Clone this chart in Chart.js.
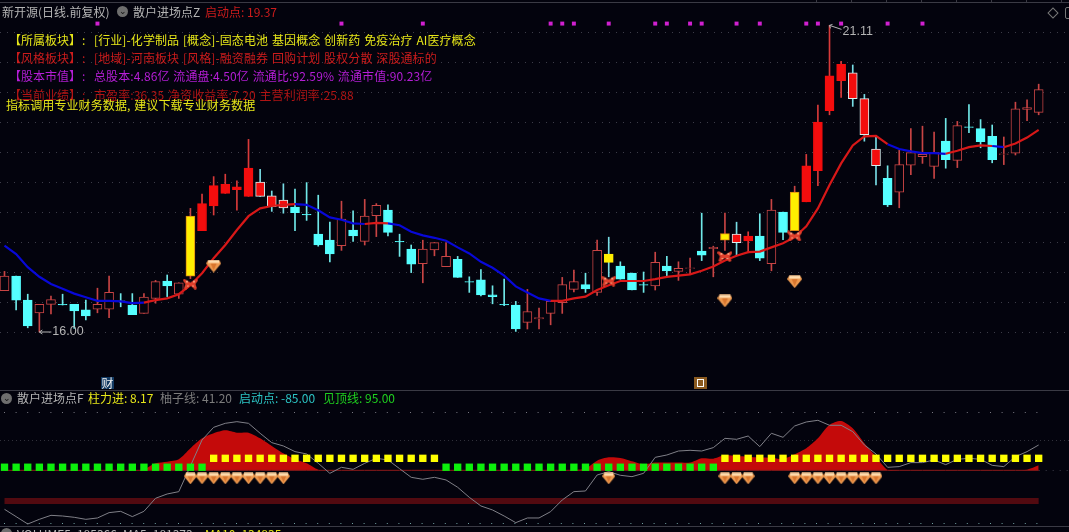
<!DOCTYPE html>
<html>
<head>
<meta charset="utf-8">
<title>散户进场点</title>
<script src="https://cdn.jsdelivr.net/npm/chart.js@4/dist/chart.umd.min.js"></script>
<style>
    html, body { margin: 0; padding: 0; background: #03030d; overflow: hidden; }
    #wrap { position: relative; width: 1069px; height: 532px; overflow: hidden; font-family: "Noto Sans CJK SC", sans-serif; font-size: 12px; }
    canvas { position: absolute; left: 0; top: 0; }
    .t { position: absolute; white-space: pre; line-height: 16px; height: 16px; }
    .s { letter-spacing: 0.1px; word-spacing: 1px; }
    .gray { color: #b4b4b4; }
    .dim { color: #7c7c7c; }
    .yellow { color: #e6e619; }
    .red { color: #cc1c1c; }
    .dred { color: #b01414; }
    .purple { color: #b51ed6; }
    .cyan { color: #2cc4c4; }
    .green { color: #1fd01f; }
    .circle { position: absolute; width: 11px; height: 11px; border-radius: 50%; background: #6e6e6e; color: #111; font-size: 9px; line-height: 10px; text-align: center; }
    .cai { position: absolute; left: 101px; top: 377px; width: 13px; height: 12px; background: #123a63; color: #f0f0f0; font-size: 12px; line-height: 12px; text-align: center; }
    .box { position: absolute; left: 694px; top: 377px; width: 13px; height: 12px; background: #8a5a20; }
    .box i { position: absolute; left: 3px; top: 2px; width: 5px; height: 6px; border: 1px solid #fff; }
    .dm { position: absolute; left: 1049px; top: 9px; width: 6px; height: 6px; border: 1px solid #777; transform: rotate(45deg); }
    .brk { position: absolute; left: 1065px; top: 7px; width: 6px; height: 10px; border: 1px solid #777; border-radius: 2px; }
</style>
</head>
<body>
<div id="wrap">
    <canvas id="klineChart" width="1069" height="532"></canvas>

    <div class="t gray" style="left:2px;top:4px">新开源(日线.前复权)</div>
    <div class="circle" style="left:117px;top:6px">⌄</div>
    <div class="t gray" style="left:133px;top:4px">散户进场点Z</div>
    <div class="t red" style="left:205px;top:4px">启动点: 19.37</div>

    <div class="t yellow" style="left:9px;top:32px">【所属板块】</div>
    <div class="t yellow" style="left:82px;top:32px">:</div>
    <div class="t yellow s" style="left:94px;top:32px">[行业]-化学制品 [概念]-固态电池 基因概念 创新药 免疫治疗 AI医疗概念</div>

    <div class="t red" style="left:9px;top:50px">【风格板块】</div>
    <div class="t red" style="left:82px;top:50px">:</div>
    <div class="t red s" style="left:94px;top:50px">[地域]-河南板块 [风格]-融资融券 回购计划 股权分散 深股通标的</div>

    <div class="t purple" style="left:9px;top:68px">【股本市值】</div>
    <div class="t purple" style="left:82px;top:68px">:</div>
    <div class="t purple s" style="left:94px;top:68px">总股本:4.86亿 流通盘:4.50亿 流通比:92.59% 流通市值:90.23亿</div>

    <div class="t dred" style="left:9px;top:87px">【当前业绩】</div>
    <div class="t dred" style="left:82px;top:87px">:</div>
    <div class="t dred s" style="left:94px;top:87px">市盈率:36.35 净资收益率:7.20 主营利润率:25.88</div>

    <div class="t yellow s" style="left:6px;top:97px">指标调用专业财务数据, 建议下载专业财务数据</div>

    <div class="cai">财</div>
    <div class="box"><i></i></div>
    <div class="dm"></div>
    <div class="brk"></div>

    <div class="circle" style="left:1px;top:393px">⌄</div>
    <div class="t gray" style="left:17px;top:390px">散户进场点F</div>
    <div class="t yellow" style="left:88px;top:390px">柱力进: 8.17</div>
    <div class="t dim" style="left:160px;top:390px">柚子线: 41.20</div>
    <div class="t cyan" style="left:239px;top:390px">启动点: -85.00</div>
    <div class="t green" style="left:323px;top:390px">见顶线: 95.00</div>

    <div class="circle" style="left:1px;top:528px">⌄</div>
    <div class="t gray" style="left:17px;top:526px">VOLUME5: 185366</div>
    <div class="t gray" style="left:123px;top:526px">MA5: 181373</div>
    <div class="t yellow" style="left:205px;top:526px">MA10: 134835</div>
</div>

<script>
// K线数据
const opens = [16.69,16.93,16.53,16.32,16.46,16.46,16.46,16.37,16.38,16.38,
    16.52,16.45,16.31,16.56,16.85,16.63,16.93,17.69,18.10,18.31,
    18.37,18.26,18.50,18.27,18.07,18.08,17.96,17.63,17.53,17.44,
    17.70,17.51,17.94,18.03,17.51,17.38,17.14,17.37,17.09,17.21,
    16.84,16.87,16.62,16.46,16.45,16.16,16.22,16.31,16.49,16.71,
    16.79,16.66,17.30,17.10,16.98,16.79,16.77,17.10,17.01,17.06,
    17.35,17.39,17.53,17.49,17.52,17.60,17.14,18.00,17.69,18.17,
    18.69,19.69,20.19,20.32,19.89,19.05,18.56,18.33,18.78,18.92,
    18.76,19.18,18.86,19.42,19.39,19.26,18.96,18.98,19.71,19.66];
const closes = [16.93,16.53,16.10,16.46,16.54,16.45,16.35,16.27,16.46,16.66,
    16.51,16.29,16.58,16.84,16.77,16.82,17.93,18.14,18.44,18.46,
    18.42,18.73,18.26,18.09,18.20,17.99,17.95,17.45,17.30,17.88,
    17.60,17.93,18.11,17.66,17.50,17.13,17.38,17.49,17.26,16.91,
    16.83,16.62,16.59,16.45,16.05,16.34,16.24,16.51,16.79,16.84,
    16.72,17.36,17.16,16.88,16.70,16.78,17.16,17.02,17.06,17.07,
    17.28,17.41,17.64,17.63,17.60,17.23,18.03,17.66,18.33,18.77,
    19.50,20.27,20.46,19.89,19.29,18.77,18.12,18.79,18.99,18.96,
    18.99,18.87,19.44,19.41,19.17,18.87,18.97,19.72,19.74,20.04];
const highs = [17.01,16.93,16.63,16.46,16.60,16.63,16.46,16.53,16.73,16.93,
    16.64,16.64,16.64,16.86,16.95,16.82,18.06,18.30,18.59,18.63,
    18.52,19.21,18.71,18.35,18.47,18.38,18.49,18.28,17.83,18.18,
    18.02,18.21,18.14,18.12,17.63,17.45,17.53,17.49,17.49,17.26,
    16.92,17.04,16.77,16.88,16.51,16.71,16.40,16.51,16.91,17.03,
    16.98,17.53,17.58,17.17,16.98,17.00,17.33,17.26,17.17,17.23,
    17.98,17.43,17.98,17.83,17.67,17.97,18.21,18.00,18.43,18.96,
    19.78,21.11,20.51,20.45,19.96,19.27,18.77,19.03,19.39,19.43,
    19.33,19.56,19.51,19.79,19.54,19.45,19.25,19.83,19.87,20.13];
const lows = [16.69,16.37,16.07,16.00,16.30,16.45,16.06,16.20,16.32,16.24,
    16.42,16.29,16.31,16.48,16.59,16.56,16.89,17.69,17.95,18.31,
    18.03,18.26,18.26,18.01,17.98,17.69,17.86,17.43,17.17,17.36,
    17.51,17.45,17.59,17.60,17.26,16.99,16.82,17.27,17.09,16.91,
    16.66,16.60,16.47,16.44,16.01,16.05,16.05,16.12,16.31,16.67,
    16.66,16.61,16.92,16.88,16.70,16.66,16.70,16.93,16.86,16.97,
    17.19,16.92,17.36,17.27,17.32,17.19,17.02,17.54,17.69,18.17,
    18.44,19.62,19.91,19.76,19.18,18.45,18.09,18.07,18.62,18.81,
    18.56,18.73,18.74,19.32,19.07,18.82,18.79,18.95,19.52,19.62];
// h空心红 c青 R实心红 X红身青影 Y黄身红影 Z黄身青影
const kinds = ("hcchhccchh" + "cchhchYRRR" + "RRXXXcccch" + "chhccchhhc" + "ccccchhhhh" +
    "chZccchchh" + "chYXRchcYR" + "RRRXXXchhh" + "hchccchhhh").split('');

// 启动点均线
const maLine = [17.44,17.30,17.08,16.92,16.80,16.72,16.64,16.58,16.52,16.52,
    16.51,16.48,16.49,16.53,16.56,16.63,16.78,16.98,17.23,17.45,
    17.70,17.93,18.06,18.10,18.12,18.13,18.12,18.03,17.91,17.87,
    17.81,17.80,17.82,17.81,17.78,17.67,17.61,17.57,17.52,17.41,
    17.31,17.17,17.07,16.94,16.76,16.66,16.56,16.52,16.52,16.56,
    16.59,16.70,16.78,16.85,16.85,16.85,16.88,16.92,16.94,16.96,
    17.02,17.09,17.19,17.27,17.33,17.34,17.41,17.48,17.58,17.76,
    18.06,18.45,18.81,19.11,19.26,19.27,19.13,19.05,19.01,18.98,
    18.98,18.97,19.02,19.08,19.11,19.10,19.08,19.14,19.24,19.37];
const maFalling = [[0,11],[25,30],[33,46],[76,80],[85,85]];

// 主图标记
const gemMain = [[18,17.10],[62,16.52],[68,16.84]];
const butterflies = [[16,16.80],[52,16.85],[62,17.26],[68,17.60]];
const purpleMarks = [8,29,36,47,48,49,52,56,57,59,60,63,65,69,70,72,76,79];
const purpleLevel = 21.14;
const priceGrid = [16,16.5,17,17.5,18,18.5,19,19.5,20,20.5,21];
const lowLabel = [3,16.00];
const highLabel = [71,21.11];

// 副图数据
const forceArea = [0,0,0,0,0,0,0,0,0,0,
    0,0,1.6,11.4,14.1,17.9,35.8,52,60.2,65,
    61.2,61.2,52,39.6,27.6,17.9,11.4,1.1,0,0,
    0,0,0,0,0,0,0,0,0,0,
    0,0,0,0,0,0,0,0,0,0.5,
    2.7,15.7,21.1,20,14.6,9.8,12.5,12.5,12.5,12.5,
    19.5,19,24.9,23.3,22.2,21,20.6,18.4,26,35.8,
    52,74,80.2,68.3,43.9,22.2,0.5,0,0,0,
    0,0,0,0,0,0,0,0,1,8.17];
const yuziLine = [-63.4,-75.3,-87.3,-79.7,-73.2,-74.3,-76.4,-79.7,-77.5,-68.8,
    -66.7,-75.3,-66.7,-45.5,-38.5,-34.7,7,49.3,69.9,76.4,
    79.1,76.4,60.2,45,39.6,30.4,26.6,11.4,-4.9,4.9,
    1.6,11.4,19.5,16.8,2.7,-11.4,-14.6,-11.4,-15.7,-27.6,
    -43.9,-58,-64.5,-74.3,-85.1,-77.5,-77.5,-67.2,-48.2,-34.7,
    -33.6,-7.6,-2.2,-8.1,-10.3,-4.9,21.1,24.9,31.4,32.5,
    31.4,36.9,52,50.4,55.8,38.5,60.2,53.7,72.1,78.6,
    81.3,73.2,73.2,62.9,41.2,26.6,4.9,6,12.5,12.5,
    16.8,9.2,17.9,19.5,17.9,8.1,6,22.2,30.4,41.2];
const greenRanges = [[0,17],[38,61]];
const yellowRanges = [[18,37],[62,89]];
const gemRanges = [[16,24],[52,52],[62,64],[68,75]];
const greenLevel = 5;
const yellowLevel = 19.5;
const gemLevel = -13;
const bandLevel = -50;
const topLevel = 95;
const midLevel = 50;
const bottomLevel = -85;

const BG = '#03030d';
const indexes = maLine.map((v, i) => i);

// 不同类型K线的颜色
const bodyFill = { h: BG, c: '#55ffff', R: '#f40d0d', X: '#f40d0d', Y: '#ffee00', Z: '#ffee00' };
const bodyEdge = { h: '#c84444', c: '#55ffff', R: '#f40d0d', X: '#d8f0f0', Y: '#e08a10', Z: '#ffee00' };
const wickColor = { h: '#c84444', c: '#70e8e8', R: '#d83a3a', X: '#78dce4', Y: '#c84444', Z: '#78dce4' };

function expandRanges(ranges, level) {
    const pts = [];
    ranges.forEach(r => {
        for (let i = r[0]; i <= r[1]; i++) {
            pts.push({ x: i, y: level });
        }
    });
    return pts;
}

function inRanges(ranges, i) {
    return ranges.some(r => i >= r[0] && i <= r[1]);
}

// 钻石图标
function makeGem(w, h) {
    const c = document.createElement('canvas');
    c.width = w;
    c.height = h;
    const g = c.getContext('2d');
    const top = Math.round(h * 0.32);
    g.fillStyle = '#ee9a50';
    g.beginPath();
    g.moveTo(2, 0.5); g.lineTo(w - 2, 0.5); g.lineTo(w, top); g.lineTo(w / 2, h); g.lineTo(0, top);
    g.closePath();
    g.fill();
    g.fillStyle = '#ffdcae';
    g.fillRect(2, 0.5, w - 4, top - 1);
    g.fillStyle = '#d9762e';
    g.beginPath();
    g.moveTo(w * 0.3, top); g.lineTo(w * 0.7, top); g.lineTo(w / 2, h - 2);
    g.closePath();
    g.fill();
    return c;
}

// 蝴蝶图标
function makeButterfly() {
    const c = document.createElement('canvas');
    c.width = 15;
    c.height = 11;
    const g = c.getContext('2d');
    g.fillStyle = '#e0402c';
    g.beginPath();
    g.moveTo(7.5, 4); g.lineTo(1, 0); g.lineTo(0, 2); g.lineTo(2.5, 5.5); g.lineTo(1, 10); g.lineTo(3, 11); g.lineTo(7.5, 7);
    g.lineTo(12, 11); g.lineTo(14, 10); g.lineTo(12.5, 5.5); g.lineTo(15, 2); g.lineTo(14, 0);
    g.closePath();
    g.fill();
    g.fillStyle = '#f59a78';
    g.fillRect(3, 2, 2, 2);
    g.fillRect(10, 2, 2, 2);
    g.fillRect(4, 7, 2, 1);
    g.fillRect(9, 7, 2, 1);
    return c;
}

function dotted(ctx, y, x0, x1, dash, color) {
    ctx.save();
    ctx.strokeStyle = color;
    ctx.lineWidth = 1;
    ctx.setLineDash(dash);
    ctx.beginPath();
    ctx.moveTo(x0, y);
    ctx.lineTo(x1, y);
    ctx.stroke();
    ctx.restore();
}

// 网格线、分隔线
const gridPlugin = {
    id: 'gridPlugin',
    beforeDatasetsDraw(chart) {
        const ctx = chart.ctx;
        const px = chart.scales.yPrice;
        const lw = chart.scales.yLow;
        const endX = chart.scales.x.getPixelForValue(indexes[indexes.length - 1]);

        priceGrid.forEach(p => {
            dotted(ctx, Math.round(px.getPixelForValue(p)) + 0.5, 0, 1069, [1, 6], '#3c3c48');
        });
        dotted(ctx, Math.round(lw.getPixelForValue(topLevel)) + 0.5, 4, endX, [1, 10.6], '#777780');
        dotted(ctx, Math.round(lw.getPixelForValue(midLevel)) + 0.5, 0, 1069, [1, 3], '#30303a');
        dotted(ctx, Math.round(lw.getPixelForValue(bottomLevel)) + 0.5, 4, endX, [1, 10.6], '#70a0a0');
        dotted(ctx, Math.round(lw.getPixelForValue(0)) + 0.5, endX, 1069, [1, 6], '#3c3c48');

        ctx.fillStyle = '#3a3a44';
        ctx.fillRect(0, 2, 1069, 1);
        ctx.fillRect(0, 390, 1069, 1);
        ctx.fillRect(0, 526, 1069, 1);
        [816, 851, 886, 921, 956, 991, 1026, 1061].forEach(x => ctx.fillRect(x, 0, 1, 3));
    },
    afterDatasetsDraw(chart) {
        // 最高最低价标注
        const ctx = chart.ctx;
        const x = chart.scales.x;
        const px = chart.scales.yPrice;
        ctx.save();
        ctx.font = '12.5px "Liberation Sans"';
        ctx.textBaseline = 'middle';
        ctx.fillStyle = '#b4b4b4';
        ctx.strokeStyle = '#b4b4b4';
        ctx.lineWidth = 1;

        const lx = x.getPixelForValue(lowLabel[0]);
        const ly = px.getPixelForValue(lowLabel[1]);
        ctx.beginPath();
        ctx.moveTo(lx, ly); ctx.lineTo(lx + 12, ly);
        ctx.moveTo(lx, ly); ctx.lineTo(lx + 3, ly - 2);
        ctx.moveTo(lx, ly); ctx.lineTo(lx + 3, ly + 2);
        ctx.stroke();
        ctx.fillText(lowLabel[1].toFixed(2), lx + 13, ly);

        const hx = x.getPixelForValue(highLabel[0]);
        const hy = px.getPixelForValue(highLabel[1]);
        ctx.beginPath();
        ctx.moveTo(hx, hy); ctx.lineTo(hx + 12, hy + 4);
        ctx.moveTo(hx, hy); ctx.lineTo(hx + 3, hy - 1);
        ctx.moveTo(hx, hy); ctx.lineTo(hx + 1, hy + 3);
        ctx.stroke();
        ctx.fillText(highLabel[1].toFixed(2), hx + 13, hy + 6);
        ctx.restore();
    }
};

function createKlineChart() {
    const ctx = document.getElementById('klineChart').getContext('2d');
    const gemBig = makeGem(15, 13);
    const gemSmall = makeGem(13, 12);
    const butterfly = makeButterfly();

    new Chart(ctx, {
        type: 'bar',
        plugins: [gridPlugin],
        data: {
            datasets: [
                {
                    type: 'line',
                    order: 40,
                    yAxisID: 'yLow',
                    data: indexes.map(i => ({ x: i, y: bandLevel })),
                    borderColor: '#520a10',
                    borderWidth: 6,
                    pointRadius: 0
                },
                {
                    type: 'line',
                    order: 38,
                    yAxisID: 'yLow',
                    data: indexes.map(i => ({ x: i, y: forceArea[i] })),
                    borderColor: '#c40a0a',
                    borderWidth: 0,
                    backgroundColor: '#c40a0a',
                    fill: 'origin',
                    tension: 0.25,
                    pointRadius: 0
                },
                {
                    type: 'line',
                    order: 37,
                    yAxisID: 'yLow',
                    data: indexes.map(i => ({ x: i, y: 0 })),
                    borderColor: '#8e1a1a',
                    borderWidth: 1,
                    pointRadius: 0
                },
                {
                    type: 'line',
                    order: 36,
                    yAxisID: 'yLow',
                    data: indexes.map(i => ({ x: i, y: yuziLine[i] })),
                    borderColor: '#808088',
                    borderWidth: 1,
                    pointRadius: 0
                },
                {
                    type: 'line',
                    order: 35,
                    yAxisID: 'yLow',
                    showLine: false,
                    data: expandRanges(greenRanges, greenLevel),
                    pointStyle: 'rect',
                    pointRadius: 5.2,
                    pointBackgroundColor: '#0cf00c',
                    pointBorderWidth: 0
                },
                {
                    type: 'line',
                    order: 34,
                    yAxisID: 'yLow',
                    showLine: false,
                    data: expandRanges(yellowRanges, yellowLevel),
                    pointStyle: 'rect',
                    pointRadius: 5.2,
                    pointBackgroundColor: '#ffff00',
                    pointBorderWidth: 0
                },
                {
                    type: 'line',
                    order: 33,
                    yAxisID: 'yLow',
                    showLine: false,
                    data: expandRanges(gemRanges, gemLevel),
                    pointStyle: gemSmall
                },
                {
                    // 影线
                    type: 'bar',
                    order: 30,
                    yAxisID: 'yPrice',
                    grouped: false,
                    barThickness: 1,
                    data: indexes.map(i => ({ x: i, y: [lows[i], highs[i]] })),
                    backgroundColor: indexes.map(i => wickColor[kinds[i]])
                },
                {
                    // 实体
                    type: 'bar',
                    order: 29,
                    yAxisID: 'yPrice',
                    grouped: false,
                    barThickness: 9,
                    data: indexes.map(i => ({ x: i, y: [opens[i], closes[i]] })),
                    backgroundColor: indexes.map(i => bodyFill[kinds[i]]),
                    borderColor: indexes.map(i => bodyEdge[kinds[i]]),
                    borderWidth: 1,
                    borderSkipped: false
                },
                {
                    type: 'line',
                    order: 20,
                    yAxisID: 'yPrice',
                    data: indexes.map(i => ({ x: i, y: maLine[i] })),
                    borderWidth: 2.2,
                    pointRadius: 0,
                    borderColor: '#d81818',
                    segment: {
                        borderColor: c => inRanges(maFalling, c.p0DataIndex) ? '#0808d8' : '#d81818'
                    }
                },
                {
                    type: 'line',
                    order: 10,
                    yAxisID: 'yPrice',
                    showLine: false,
                    data: butterflies.map(b => ({ x: b[0], y: b[1] })),
                    pointStyle: butterfly
                },
                {
                    type: 'line',
                    order: 9,
                    yAxisID: 'yPrice',
                    showLine: false,
                    data: gemMain.map(b => ({ x: b[0], y: b[1] })),
                    pointStyle: gemBig
                },
                {
                    type: 'line',
                    order: 8,
                    yAxisID: 'yPrice',
                    showLine: false,
                    data: purpleMarks.map(i => ({ x: i, y: purpleLevel })),
                    pointStyle: 'rect',
                    pointRadius: 2.8,
                    pointBackgroundColor: '#d020d0',
                    pointBorderWidth: 0
                }
            ]
        },
        options: {
            responsive: false,
            animation: false,
            events: [],
            layout: { padding: 0, autoPadding: false },
            plugins: {
                legend: { display: false },
                tooltip: { enabled: false }
            },
            scales: {
                x: { type: 'linear', display: false, min: -0.387, max: 91.61, offset: false },
                yPrice: { type: 'linear', display: false, min: 12.667, max: 21.533 },
                yLow: { type: 'linear', display: false, min: -100.3, max: 764.7 }
            }
        }
    });
}

document.addEventListener('DOMContentLoaded', function() {
    createKlineChart();
});
</script>
</body>
</html>
